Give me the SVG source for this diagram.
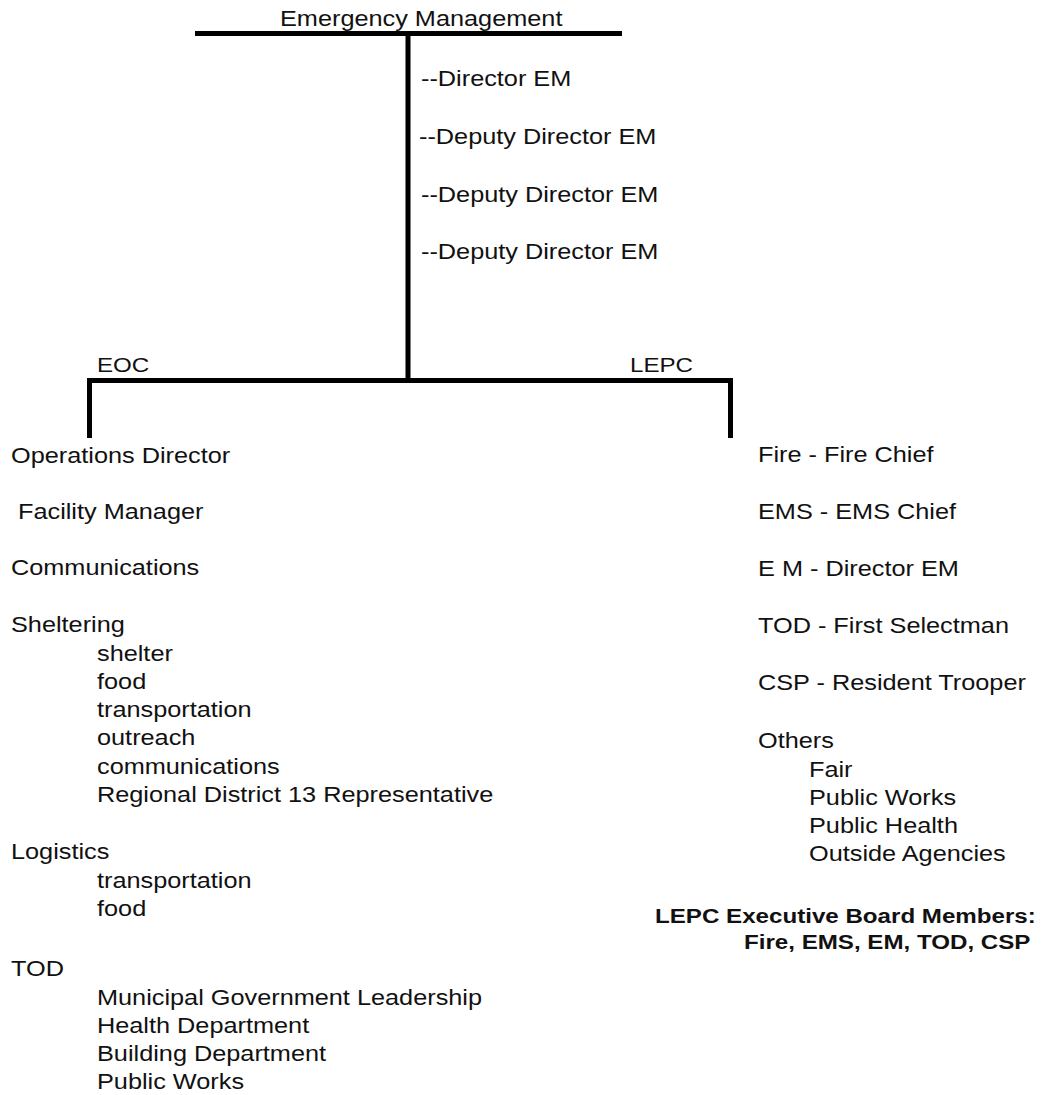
<svg xmlns="http://www.w3.org/2000/svg" width="1043" height="1095" viewBox="0 0 1043 1095">
<style>
text{font-family:"Liberation Sans",Arial,sans-serif;font-size:22px;fill:#111;}
.b{font-weight:bold;font-size:21px;}
.s{font-size:21px;}
.ln{stroke:#000;stroke-width:5;fill:none;stroke-linejoin:miter;}
</style>
<rect width="1043" height="1095" fill="#fff"/>
<g id="connectors">
<line class="ln" x1="195" y1="33.5" x2="622" y2="33.5"/>
<line class="ln" x1="408" y1="33" x2="408" y2="381" stroke-width="4.5"/>
<path class="ln" d="M89.5,438 V380.5 H730.5 V438"/>
</g>
<g id="em" transform="translate(280,26) scale(1.15,1)"><text>Emergency Management</text></g>
<g id="em-staff">
<g transform="translate(421,86) scale(1.15,1)"><text>--Director EM</text></g>
<g transform="translate(419,144) scale(1.15,1)"><text>--Deputy Director EM</text></g>
<g transform="translate(421,202) scale(1.15,1)"><text>--Deputy Director EM</text></g>
<g transform="translate(421,259) scale(1.15,1)"><text>--Deputy Director EM</text></g>
</g>
<g id="eoc" transform="translate(97,372) scale(1.15,1)"><text class="s">EOC</text></g>
<g id="lepc" transform="translate(630,372) scale(1.15,1)"><text class="s">LEPC</text></g>
<g id="eoc-list">
<g transform="translate(11,463) scale(1.15,1)"><text>Operations Director</text></g>
<g transform="translate(18,519) scale(1.15,1)"><text>Facility Manager</text></g>
<g transform="translate(11,575) scale(1.15,1)"><text>Communications</text></g>
<g transform="translate(11,632) scale(1.15,1)"><text>Sheltering</text></g>
<g transform="translate(97,661) scale(1.15,1)"><text>shelter</text></g>
<g transform="translate(97,689) scale(1.15,1)"><text>food</text></g>
<g transform="translate(97,717) scale(1.15,1)"><text>transportation</text></g>
<g transform="translate(97,745) scale(1.15,1)"><text>outreach</text></g>
<g transform="translate(97,774) scale(1.15,1)"><text>communications</text></g>
<g transform="translate(97,802) scale(1.15,1)"><text>Regional District 13 Representative</text></g>
<g transform="translate(11,859) scale(1.15,1)"><text>Logistics</text></g>
<g transform="translate(97,888) scale(1.15,1)"><text>transportation</text></g>
<g transform="translate(97,916) scale(1.15,1)"><text>food</text></g>
<g transform="translate(11,976) scale(1.15,1)"><text>TOD</text></g>
<g transform="translate(97,1005) scale(1.15,1)"><text>Municipal Government Leadership</text></g>
<g transform="translate(97,1033) scale(1.15,1)"><text>Health Department</text></g>
<g transform="translate(97,1061) scale(1.15,1)"><text>Building Department</text></g>
<g transform="translate(97,1089) scale(1.15,1)"><text>Public Works</text></g>
</g>
<g id="lepc-list">
<g transform="translate(758,462) scale(1.15,1)"><text>Fire - Fire Chief</text></g>
<g transform="translate(758,519) scale(1.15,1)"><text>EMS - EMS Chief</text></g>
<g transform="translate(758,576) scale(1.15,1)"><text>E M - Director EM</text></g>
<g transform="translate(758,633) scale(1.15,1)"><text>TOD - First Selectman</text></g>
<g transform="translate(758,690) scale(1.15,1)"><text>CSP - Resident Trooper</text></g>
<g transform="translate(758,748) scale(1.15,1)"><text>Others</text></g>
<g transform="translate(809,777) scale(1.15,1)"><text>Fair</text></g>
<g transform="translate(809,805) scale(1.15,1)"><text>Public Works</text></g>
<g transform="translate(809,833) scale(1.15,1)"><text>Public Health</text></g>
<g transform="translate(809,861) scale(1.15,1)"><text>Outside Agencies</text></g>
</g>
<g id="lepc-board">
<g transform="translate(655,923) scale(1.15,1)"><text class="b">LEPC Executive Board Members:</text></g>
<g transform="translate(744,949) scale(1.15,1)"><text class="b">Fire, EMS, EM, TOD, CSP</text></g>
</g>
</svg>
